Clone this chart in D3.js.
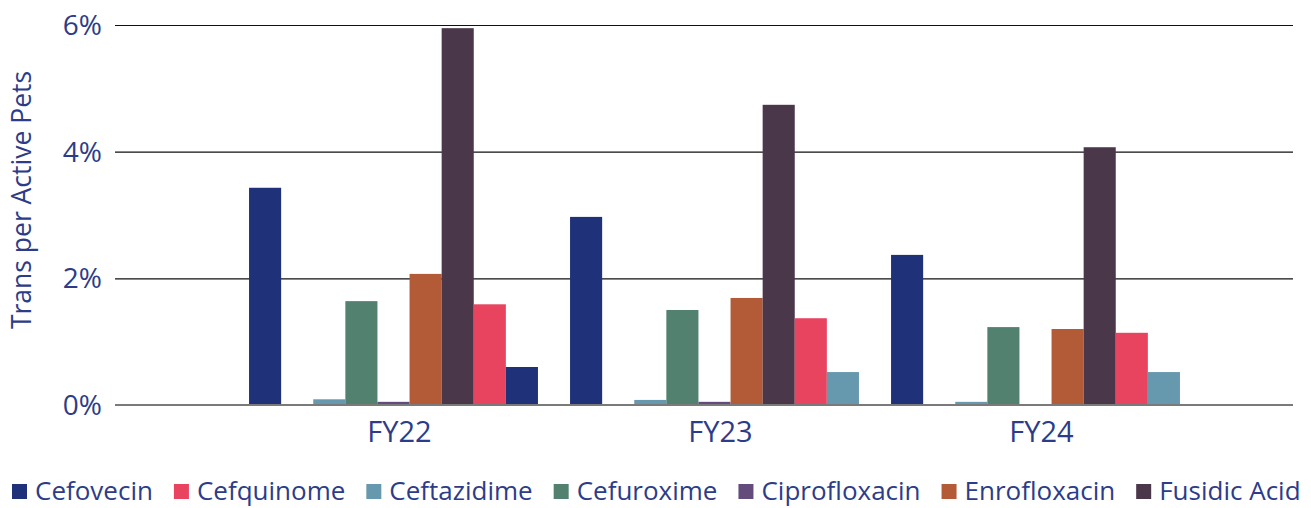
<!DOCTYPE html>
<html>
<head>
<meta charset="utf-8">
<script src="https://d3js.org/d3.v7.min.js"></script>
<style>
    body { margin: 0; background: #fff; }
    svg text { font-family: "Open Sans", "Noto Sans", sans-serif; fill: #2d3c88; }
    .grid line { stroke: #111; stroke-width: 1.2px; }
    .grid path { stroke-width: 0; }
    .zero-line { stroke: #7a7a7a; stroke-width: 2px; }
</style>
</head>
<body>
<svg id="chart" width="1311" height="508"></svg>
<script>
    // Категории и серии
    const categories = ["FY22", "FY23", "FY24"];
    const seriesNames = ["Cefovecin", "Cefquinome", "Ceftazidime", "Cefuroxime", "Ciprofloxacin", "Enrofloxacin", "Fusidic Acid"];
    const seriesColors = ["#1e3179", "#e8435f", "#6698ae", "#528170", "#634b7c", "#b35b37", "#4a3749"];

    // значения в %
    const cefovecin = [3.43, 2.97, 2.37];
    const cefquinome = [0, 0, 0];
    const ceftazidime = [0.09, 0.08, 0.05];
    const cefuroxime = [1.64, 1.50, 1.23];
    const ciprofloxacin = [0.05, 0.05, 0];
    const enrofloxacin = [2.07, 1.69, 1.20];
    const fusidicAcid = [5.95, 4.74, 4.07];
    // две серии без подписи в легенде
    const extra8 = [1.59, 1.37, 1.14];
    const extra9 = [0.60, 0.52, 0.52];
    const extra8Colors = ["#e8435f", "#e8435f", "#e8435f"];
    const extra9Colors = ["#1e3179", "#6698ae", "#6698ae"];

    const yTicks = [0, 2, 4, 6];

    const allValues = [cefovecin, cefquinome, ceftazidime, cefuroxime, ciprofloxacin, enrofloxacin, fusidicAcid, extra8, extra9];
    const keys = d3.range(allValues.length);
    const colorOf = (k, ci) => k < 7 ? seriesColors[k] : (k === 7 ? extra8Colors[ci] : extra9Colors[ci]);

    const svg = d3.select("#chart");
    const plotLeft = 115, plotRight = 1293;

    const y = d3.scaleLinear().domain([0, 6]).range([405, 25]);
    const x0 = d3.scaleBand().domain(categories).range([233, 1196]);
    const x1 = d3.scaleBand().domain(keys).range([0, x0.bandwidth()]).paddingOuter(0.5);

    // сетка
    const grid = svg.append("g")
        .attr("class", "grid")
        .attr("transform", `translate(${plotLeft},0)`)
        .call(d3.axisLeft(y).tickValues(yTicks).tickSize(-(plotRight - plotLeft)).tickFormat(""));
    grid.selectAll(".tick").filter(d => d === 0).remove();

    // подписи оси Y
    svg.append("g")
        .selectAll("text")
        .data(yTicks)
        .join("text")
        .attr("x", 102)
        .attr("y", d => y(d) + 10)
        .attr("text-anchor", "end")
        .style("font-size", "28px")
        .text(d => d + "%");

    // столбцы
    const groups = svg.append("g")
        .selectAll("g")
        .data(categories)
        .join("g")
        .attr("transform", d => `translate(${x0(d)},0)`);

    groups.selectAll("rect")
        .data((c, ci) => keys.map(k => ({ k, ci, v: allValues[k][ci] })))
        .join("rect")
        .attr("x", d => x1(d.k))
        .attr("width", x1.bandwidth())
        .attr("y", d => y(d.v))
        .attr("height", d => y(0) - y(d.v))
        .attr("fill", d => colorOf(d.k, d.ci));

    // нулевая линия
    svg.append("line")
        .attr("class", "zero-line")
        .attr("x1", plotLeft)
        .attr("x2", plotRight)
        .attr("y1", y(0))
        .attr("y2", y(0));

    // подписи категорий
    svg.append("g")
        .selectAll("text")
        .data(categories)
        .join("text")
        .attr("x", d => x0(d) + x0.bandwidth() / 2 + 6)
        .attr("y", 442)
        .attr("text-anchor", "middle")
        .style("font-size", "29px")
        .text(d => d);

    // заголовок оси Y
    svg.append("text")
        .attr("transform", "translate(31,200) rotate(-90)")
        .attr("text-anchor", "middle")
        .style("font-size", "26.5px")
        .text("Trans per Active Pets");

    // легенда
    const legend = svg.append("g").attr("transform", "translate(12,500)");
    let lx = 0;
    seriesNames.forEach((name, i) => {
        legend.append("rect")
            .attr("x", lx)
            .attr("y", -16)
            .attr("width", 15)
            .attr("height", 15)
            .attr("fill", seriesColors[i]);
        const t = legend.append("text")
            .attr("x", lx + 23)
            .attr("y", 0)
            .style("font-size", "26px")
            .text(name);
        lx += 23 + t.node().getComputedTextLength() + 21;
    });
</script>
</body>
</html>
